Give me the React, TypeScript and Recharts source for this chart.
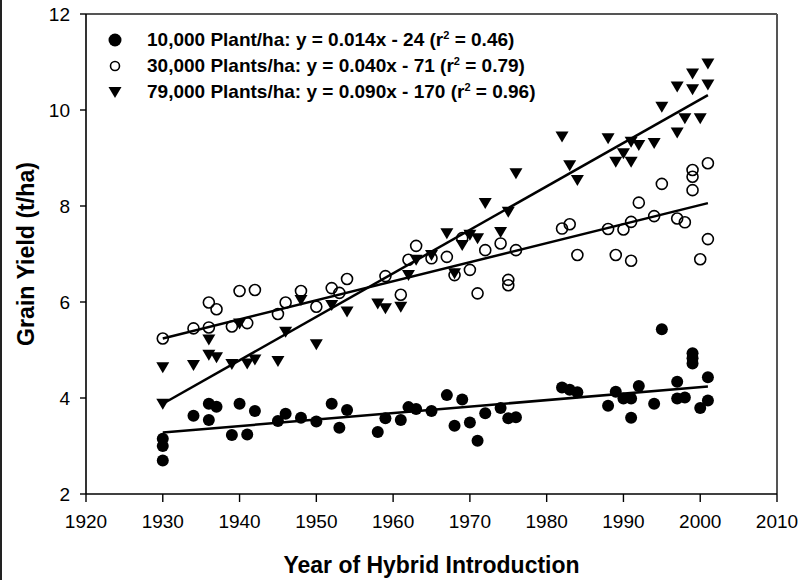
import React from "react";
import {
  ScatterChart,
  Scatter,
  XAxis,
  YAxis,
  ReferenceLine,
  Label,
} from "recharts";

const FONT = "'Liberation Sans', Arial, sans-serif";

const YEAR_TICKS = [1920, 1930, 1940, 1950, 1960, 1970, 1980, 1990, 2000, 2010];
const YIELD_TICKS = [2, 4, 6, 8, 10, 12];

// [year, grain yield t/ha]
const LOW_10K: [number, number][] = [
  [1930, 3.15], [1930, 3.0], [1930, 2.7], [1934, 3.63], [1936, 3.88], [1937, 3.82],
  [1936, 3.54], [1939, 3.23], [1940, 3.88], [1941, 3.24], [1942, 3.73], [1945, 3.52],
  [1946, 3.67], [1948, 3.59], [1950, 3.51], [1952, 3.88], [1953, 3.38], [1954, 3.75],
  [1958, 3.29], [1959, 3.58], [1961, 3.54], [1962, 3.81], [1963, 3.77], [1965, 3.73],
  [1967, 4.06], [1968, 3.42], [1969, 3.97], [1970, 3.49], [1971, 3.11], [1972, 3.68],
  [1974, 3.79], [1975, 3.58], [1976, 3.6], [1982, 4.22], [1983, 4.17], [1984, 4.12],
  [1988, 3.84], [1989, 4.13], [1990, 3.99], [1991, 3.99], [1991, 3.59], [1992, 4.25],
  [1994, 3.88], [1995, 5.43], [1997, 4.34], [1997, 3.99], [1998, 4.01], [1999, 4.93],
  [1999, 4.83], [1999, 4.72], [2000, 3.79], [2001, 4.43], [2001, 3.95],
];

const MID_30K: [number, number][] = [
  [1930, 5.24], [1934, 5.45], [1936, 5.99], [1937, 5.85], [1936, 5.47], [1939, 5.49],
  [1940, 6.23], [1942, 6.25], [1941, 5.56], [1945, 5.75], [1946, 5.99], [1948, 6.23],
  [1950, 5.9], [1952, 6.29], [1953, 6.19], [1954, 6.48], [1959, 6.54], [1961, 6.15],
  [1962, 6.88], [1963, 7.17], [1965, 6.91], [1967, 6.94], [1968, 6.56], [1969, 7.33],
  [1970, 6.67], [1971, 6.18], [1972, 7.08], [1974, 7.22], [1975, 6.46], [1975, 6.35],
  [1976, 7.08], [1982, 7.53], [1983, 7.62], [1984, 6.98], [1988, 7.52], [1989, 6.98],
  [1990, 7.51], [1991, 7.67], [1991, 6.86], [1992, 8.07], [1994, 7.79], [1995, 8.46],
  [1997, 7.74], [1998, 7.66], [1999, 8.75], [1999, 8.61], [1999, 8.33], [2000, 6.89],
  [2001, 8.89], [2001, 7.31],
];

const HIGH_79K: [number, number][] = [
  [1930, 4.64], [1930, 3.88], [1934, 4.69], [1936, 5.22], [1936, 4.9], [1937, 4.85],
  [1939, 4.71], [1940, 5.55], [1941, 4.72], [1942, 4.8], [1945, 4.77], [1946, 5.38],
  [1948, 6.04], [1950, 5.12], [1952, 5.94], [1954, 5.8], [1958, 5.97], [1959, 5.87],
  [1961, 5.9], [1962, 6.56], [1963, 6.88], [1965, 6.98], [1967, 7.43], [1968, 6.6],
  [1969, 7.19], [1970, 7.4], [1971, 7.33], [1972, 8.06], [1974, 7.46], [1975, 7.88],
  [1976, 8.68], [1982, 9.45], [1983, 8.85], [1984, 8.54], [1988, 9.41], [1989, 8.92],
  [1990, 9.1], [1991, 9.34], [1991, 8.92], [1992, 9.27], [1994, 9.31], [1995, 10.07],
  [1997, 10.49], [1997, 9.53], [1998, 9.83], [1999, 10.76], [1999, 10.43], [2000, 9.83],
  [2001, 10.97], [2001, 10.53],
];

// regression line end points
const FIT_10K: [number, number][] = [[1930, 3.28], [2001, 4.24]];
const FIT_30K: [number, number][] = [[1930, 5.24], [2001, 8.06]];
const FIT_79K: [number, number][] = [[1930, 3.88], [2001, 10.31]];

const toPts = (a: [number, number][]) => a.map(([x, y]) => ({ x, y }));

const FilledDot = (p: any) => <circle cx={p.cx} cy={p.cy} r={6} fill="#000" />;
const OpenDot = (p: any) => (
  <circle cx={p.cx} cy={p.cy} r={5.5} fill="none" stroke="#000" strokeWidth={1.6} />
);
const DownTri = (p: any) => (
  <polygon
    points={`${p.cx - 6.5},${p.cy - 5} ${p.cx + 6.5},${p.cy - 5} ${p.cx},${p.cy + 6}`}
    fill="#000"
  />
);
const NoDot = () => <g />;

const LEGEND = [
  { sym: "filled", label: "10,000 Plant/ha: y = 0.014x - 24 (r", r2: " = 0.46)" },
  { sym: "open", label: "30,000 Plants/ha: y = 0.040x - 71 (r", r2: " = 0.79)" },
  { sym: "tri", label: "79,000 Plants/ha: y = 0.090x - 170 (r", r2: " = 0.96)" },
];

function LegendSym({ kind }: { kind: string }) {
  return (
    <svg width={16} height={16} style={{ display: "block" }}>
      {kind === "filled" && <circle cx={8} cy={8} r={6.5} fill="#000" />}
      {kind === "open" && <circle cx={8} cy={8} r={4.5} fill="none" stroke="#000" strokeWidth={1.6} />}
      {kind === "tri" && <polygon points="1.5,3 14.5,3 8,14" fill="#000" />}
    </svg>
  );
}

const titleStyle = { fontSize: 23, fontWeight: 700, fill: "#000", fontFamily: FONT };

export default function App() {
  return (
    <div
      style={{
        position: "absolute",
        left: 0,
        top: 0,
        width: 799,
        height: 580,
        background: "#fff",
        fontFamily: FONT,
      }}
    >
      <div style={{ position: "absolute", left: 0, top: 0, width: 2, height: 580, background: "#222" }} />
      <ScatterChart width={799} height={580} margin={{ top: 14, right: 22, bottom: 0, left: 0 }}>
        <XAxis
          type="number"
          dataKey="x"
          domain={[1920, 2010]}
          ticks={YEAR_TICKS}
          interval={0}
          height={86}
          tickSize={8}
          tickMargin={13}
          axisLine={{ stroke: "#000", strokeWidth: 1.6 }}
          tickLine={{ stroke: "#000", strokeWidth: 1.4 }}
          tick={{ fill: "#000", fontSize: 19, fontFamily: FONT }}
        >
          <Label
            content={({ viewBox }: any) => {
              const cx = viewBox.x + viewBox.width / 2;
              const cy = viewBox.y + viewBox.height - 15;
              return (
                <text
                  x={cx}
                  y={cy}
                  textAnchor="middle"
                  dominantBaseline="central"
                  textLength={296}
                  lengthAdjust="spacingAndGlyphs"
                  style={titleStyle}
                >
                  Year of Hybrid Introduction
                </text>
              );
            }}
          />
        </XAxis>
        <YAxis
          type="number"
          dataKey="y"
          domain={[2, 12]}
          ticks={YIELD_TICKS}
          interval={0}
          width={86}
          tickSize={6}
          tickMargin={10}
          axisLine={{ stroke: "#000", strokeWidth: 1.6 }}
          tickLine={{ stroke: "#000", strokeWidth: 1.4 }}
          tick={{ fill: "#000", fontSize: 19, fontFamily: FONT }}
        >
          <Label
            content={({ viewBox }: any) => {
              const cx = viewBox.x + 26;
              const cy = viewBox.y + viewBox.height / 2;
              return (
                <text
                  x={cx}
                  y={cy}
                  transform={`rotate(-90 ${cx} ${cy})`}
                  textAnchor="middle"
                  dominantBaseline="central"
                  textLength={184}
                  lengthAdjust="spacingAndGlyphs"
                  style={titleStyle}
                >
                  Grain Yield (t/ha)
                </text>
              );
            }}
          />
        </YAxis>
        <ReferenceLine y={12} stroke="#555" strokeWidth={2} />
        <ReferenceLine x={2010} stroke="#555" strokeWidth={2} />
        <Scatter data={toPts(LOW_10K)} shape={FilledDot} isAnimationActive={false} />
        <Scatter data={toPts(MID_30K)} shape={OpenDot} isAnimationActive={false} />
        <Scatter data={toPts(HIGH_79K)} shape={DownTri} isAnimationActive={false} />
        <Scatter data={toPts(FIT_10K)} shape={NoDot} line={{ stroke: "#000", strokeWidth: 2.5 }} isAnimationActive={false} />
        <Scatter data={toPts(FIT_30K)} shape={NoDot} line={{ stroke: "#000", strokeWidth: 2.5 }} isAnimationActive={false} />
        <Scatter data={toPts(FIT_79K)} shape={NoDot} line={{ stroke: "#000", strokeWidth: 2.5 }} isAnimationActive={false} />
      </ScatterChart>
      <div style={{ position: "absolute", left: 107, top: 27 }}>
        {LEGEND.map((l) => (
          <div key={l.sym} style={{ display: "flex", alignItems: "center", height: 26 }}>
            <LegendSym kind={l.sym} />
            <span
              style={{
                marginLeft: 24,
                fontSize: 19,
                fontWeight: 700,
                color: "#000",
                whiteSpace: "nowrap",
                lineHeight: "26px",
              }}
            >
              {l.label}
              <sup style={{ fontSize: 11, verticalAlign: "7px", lineHeight: 0 }}>2</sup>
              {l.r2}
            </span>
          </div>
        ))}
      </div>
    </div>
  );
}
